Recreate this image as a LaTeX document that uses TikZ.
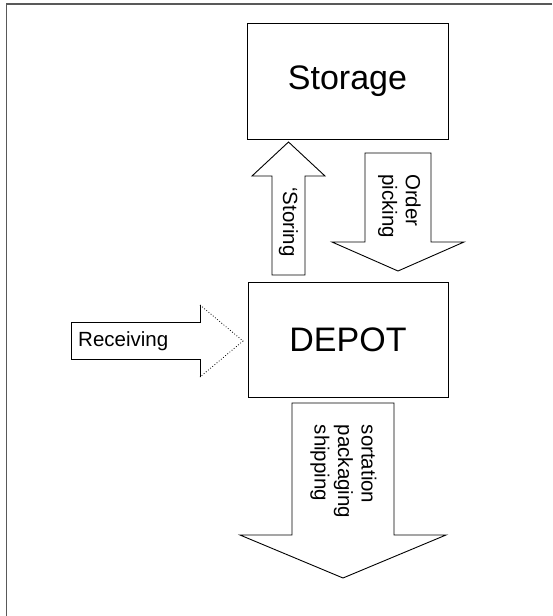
\documentclass[tikz,border=0pt]{standalone}
\usepackage{fontspec}
\setmainfont{Liberation Sans}
\begin{document}
\begin{tikzpicture}[x=1pt,y=-1pt,
  box/.style={draw=black,line width=0.9pt,fill=white,inner sep=0pt},
  bigtext/.style={font=\fontsize{34}{40}\selectfont},
  smalltext/.style={font=\fontsize{20.5}{23.5}\selectfont,inner sep=0pt},
  blockarrow/.style={draw=black,line width=0.9pt,line join=miter},
  frame/.style={draw=black!65,line width=1.6pt}]
\useasboundingbox (0,0) rectangle (552,616);
\fill[white] (0,0) rectangle (552,616);
% outer frame (top and left edges visible)
\draw[frame] (552,3.8) -- (6.5,3.8) -- (6.5,616);
% boxes
\node[box,bigtext,minimum width=201pt,minimum height=116pt] (storage) at (347.5,81) {Storage};
\node[box,bigtext,minimum width=200pt,minimum height=115pt] (depot) at (348,339.5) {DEPOT};
% Storing arrow (up)
\draw[blockarrow] (272,275) -- (272,176) -- (252,176) -- (288.5,142) -- (325,176) -- (305,176) -- (305,275) -- cycle;
\node[smalltext,rotate=-90] (storing) at (288.5,222) {`Storing};
% Order picking arrow (down)
\draw[blockarrow] (365,153) -- (431,153) -- (431,242) -- (464,242) -- (398,271) -- (332,242) -- (365,242) -- cycle;
\node[smalltext,rotate=-90,align=left] (picking) at (399.5,206) {Order\\picking};
% bottom arrow (down)
\draw[blockarrow] (292,403) -- (394,403) -- (394,535) -- (446,535) -- (343,578) -- (240,535) -- (292,535) -- cycle;
\node[smalltext,rotate=-90,align=left] (ship) at (343.5,471.5) {sortation\\packaging\\shipping};
% Receiving arrow (right)
\draw[blockarrow] (200,305) -- (200,322) -- (71,322) -- (71,359) -- (200,359) -- (200,377);
\draw[draw=black,line width=0.8pt,dotted] (200,305) -- (243,341) -- (200,377);
\node[smalltext,anchor=west] (receiving) at (78,341) {Receiving};
\end{tikzpicture}
\end{document}
